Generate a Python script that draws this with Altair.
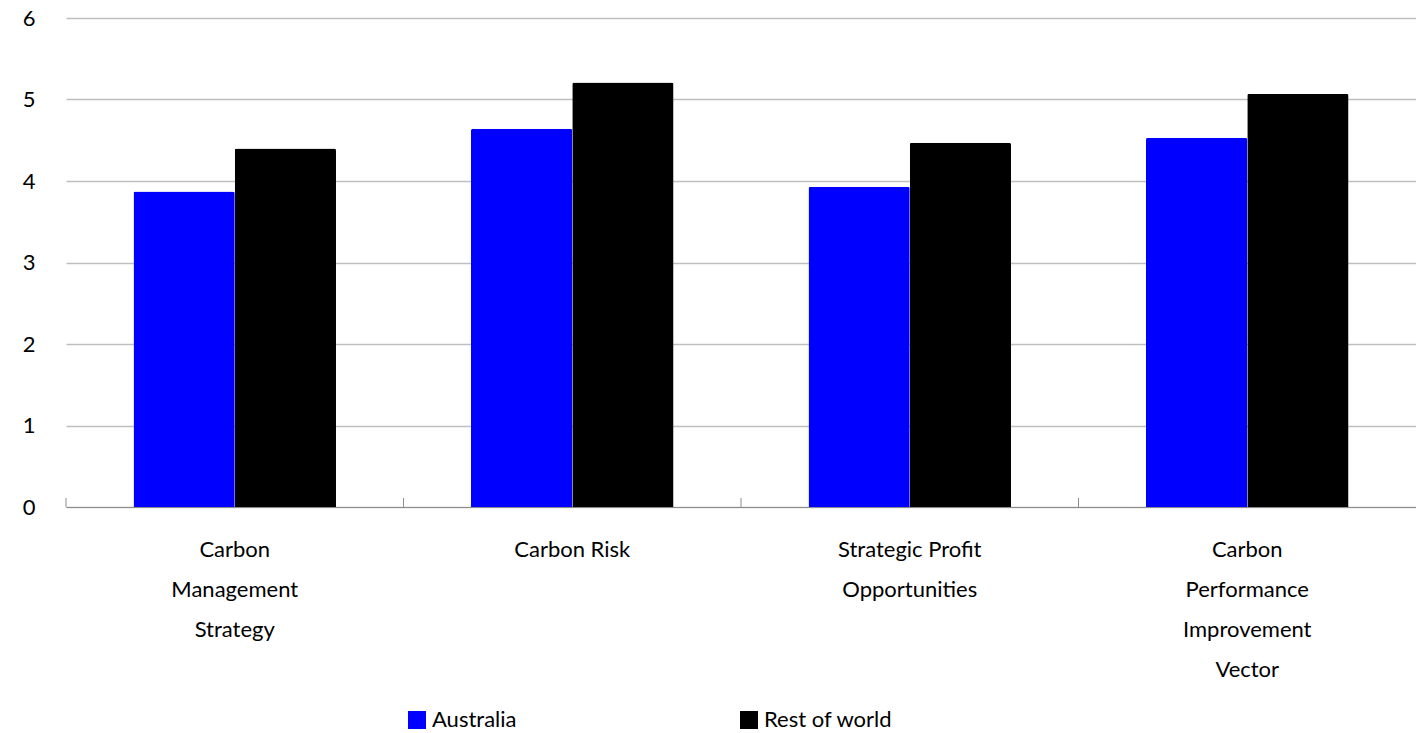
import altair as alt
import pandas as pd

categories = [
    "Carbon|Management|Strategy",
    "Carbon Risk",
    "Strategic Profit|Opportunities",
    "Carbon|Performance|Improvement|Vector",
]
series = ["Australia", "Rest of world"]
australia = [3.87, 4.64, 3.93, 4.53]
rest_of_world = [4.40, 5.21, 4.47, 5.07]
y_ticks = [0, 1, 2, 3, 4, 5, 6]

rows = []
for c, a, r in zip(categories, australia, rest_of_world):
    rows.append({"category": c, "series": series[0], "value": a})
    rows.append({"category": c, "series": series[1], "value": r})
df = pd.DataFrame(rows)
cat_df = pd.DataFrame({"category": categories})

FONT = "Lato"

x_enc = alt.X(
    "category:N",
    sort=categories,
    title=None,
    scale=alt.Scale(paddingInner=0, paddingOuter=0),
    axis=alt.Axis(
        labelAngle=0,
        labelExpr="split(datum.label, '|')",
        labelFontSize=22,
        labelLineHeight=40,
        labelPadding=32,
        labelColor="#000000",
        labelFont=FONT,
        labelBaseline="top",
        domainColor="#8c8c8c",
        ticks=False,
        grid=False,
        labelLimit=400,
    ),
)

bars = (
    alt.Chart(df)
    .mark_bar(cornerRadiusEnd=2)
    .encode(
        x=x_enc,
        xOffset=alt.XOffset(
            "series:N",
            sort=series,
            scale=alt.Scale(paddingInner=0, paddingOuter=0.6667),
        ),
        y=alt.Y(
            "value:Q",
            title=None,
            scale=alt.Scale(domain=[0, 6], nice=False),
            axis=alt.Axis(
                values=y_ticks,
                labelFontSize=22,
                labelFont=FONT,
                labelColor="#000000",
                labelPadding=31,
                ticks=False,
                domain=False,
                gridColor="#BFBFBF",
                gridWidth=1.5,
            ),
        ),
        color=alt.Color(
            "series:N",
            sort=series,
            scale=alt.Scale(domain=series, range=["#0000FF", "#000000"]),
            legend=alt.Legend(
                title=None,
                orient="none",
                direction="horizontal",
                legendX=340,
                legendY=691,
                symbolType="square",
                symbolSize=324,
                symbolStrokeWidth=0,
                symbolOpacity=1,
                labelFontSize=22,
                labelFont=FONT,
                labelColor="#000000",
                labelOffset=4,
                columnPadding=221,
            ),
        ),
    )
)

ticks = (
    alt.Chart(cat_df)
    .mark_rule(color="#8c8c8c", strokeWidth=1)
    .encode(
        x=alt.X("category:N", sort=categories, bandPosition=0),
        y=alt.value(480),
        y2=alt.value(489),
    )
)

chart = (
    alt.layer(bars, ticks)
    .properties(
        width=1350,
        height=489,
        padding={"left": 66, "top": 18, "right": 0, "bottom": 226},
        autosize="none",
    )
    .configure_view(stroke=None)
)

chart.save("out.html", embed_options={"renderer": "svg", "actions": False})
